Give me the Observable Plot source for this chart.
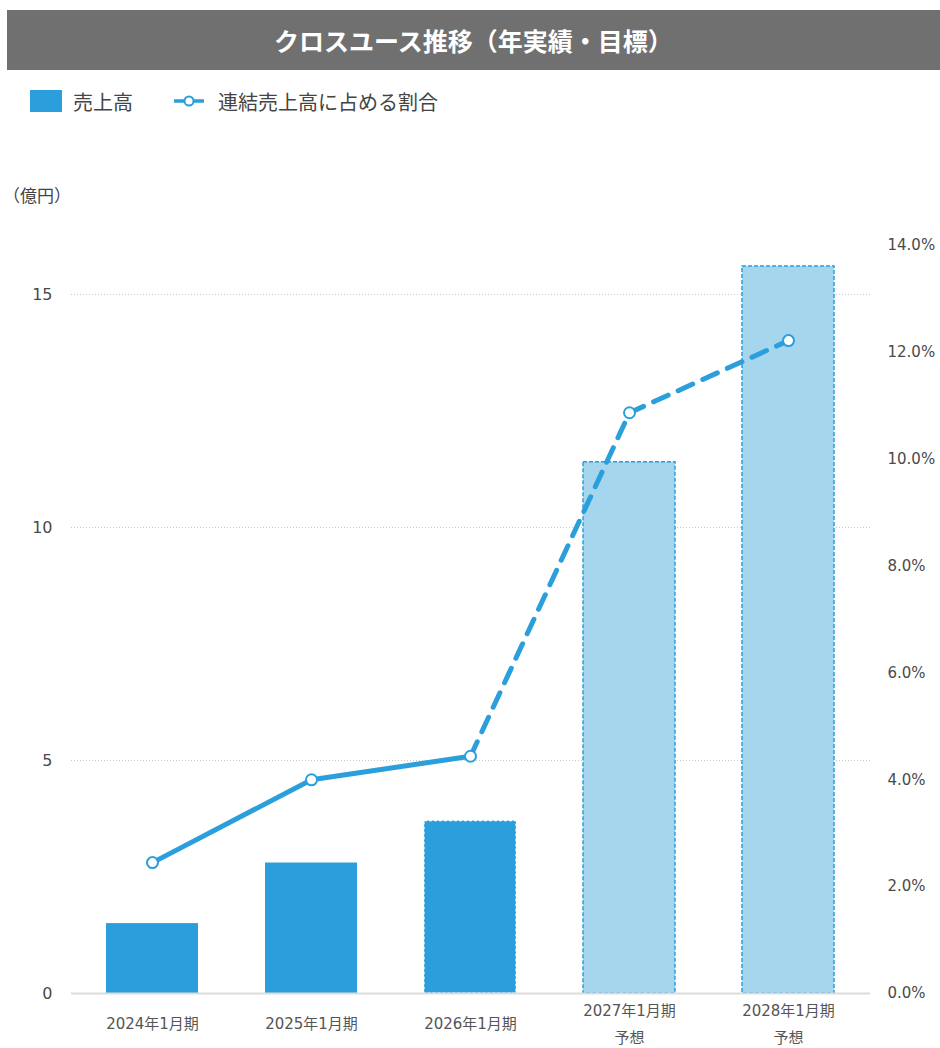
<!DOCTYPE html>
<html><head><meta charset="utf-8">
<script src="https://cdn.jsdelivr.net/npm/d3@7"></script>
<script src="https://cdn.jsdelivr.net/npm/@observablehq/plot@0.6"></script>
<style>
body{margin:0;background:#fff;font-family:"Noto Sans CJK JP",sans-serif;}
#wrap{position:relative;width:940px;height:1048px;overflow:hidden;}
#title{position:absolute;left:7px;top:10px;width:933px;height:60px;background:#707070;color:#fff;font-weight:bold;font-size:25px;display:flex;align-items:center;justify-content:center;}
#legend{position:absolute;left:30px;top:86px;height:30px;display:flex;align-items:center;font-size:20px;color:#444;}
.sw{width:32px;height:22px;background:#2a9fdb;display:inline-block;margin-right:11px;}
#unit{position:absolute;left:3px;top:182px;font-size:17px;color:#444;}
#chart{position:absolute;left:0;top:130px;}
</style></head>
<body><div id="wrap">
<div id="title">クロスユース推移（年実績・目標）</div>
<div id="legend"><span class="sw"></span><span>売上高</span>
<svg width="32" height="14" style="margin-left:40px;margin-right:13px"><line x1="1" y1="7" x2="31" y2="7" stroke="#2a9fdb" stroke-width="3.5"/><circle cx="16" cy="7" r="4.5" fill="#fff" stroke="#2a9fdb" stroke-width="2"/></svg><span>連結売上高に占める割合</span></div>
<div id="unit">（億円）</div>
<div id="chart"></div>
</div>
<script>
const categories = ["2024年1月期","2025年1月期","2026年1月期","2027年1月期","2028年1月期"];
const subLabels = ["","","","予想","予想"];
const sales = [1.5, 2.8, 3.7, 11.4, 15.6];
const ratio = [2.45, 4.0, 4.44, 10.87, 12.22];
const status = ["actual","actual","estimate","forecast","forecast"];
const leftTicks = [0, 5, 10, 15];
const rightTicks = [0, 2, 4, 6, 8, 10, 12, 14];

const blue = "#2a9fdb", light = "#a6d5ee";
const yMax = 16.05, pMax = 14, k = yMax / pMax;
const rows = categories.map((c, i) => ({cat: c, sub: subLabels[i], sales: sales[i], ratio: ratio[i], y2: ratio[i] * k, status: status[i]}));
const solidLine = rows.filter(d => d.status === "actual" || d.status === "estimate");
const dashLine = rows.filter(d => d.status !== "actual");

const chart = Plot.plot({
  width: 940, height: 918,
  marginLeft: 71, marginRight: 70, marginTop: 115, marginBottom: 55,
  style: {fontFamily: "DejaVu Sans, sans-serif", color: "#444", background: "transparent"},
  x: {domain: categories, paddingInner: 0.42, paddingOuter: 0.21, axis: null},
  y: {domain: [0, yMax], axis: null},
  marks: [
    Plot.gridY(leftTicks.filter(t => t > 0), {stroke: "#c8c8c8", strokeOpacity: 1, strokeDasharray: "1,2"}),
    Plot.axisY(leftTicks, {anchor: "left", tickSize: 0, tickPadding: 19, fontSize: 16, fill: "#4a4a4a"}),
    Plot.axisY(rightTicks.map(t => t * k), {anchor: "right", tickSize: 0, tickPadding: 17, fontSize: 15, fill: "#4a4a4a", tickFormat: d => (d / k).toFixed(1) + "%"}),
    Plot.barY(rows.filter(d => d.status === "actual"), {x: "cat", y: "sales", fill: blue}),
    Plot.barY(rows.filter(d => d.status === "estimate"), {x: "cat", y: "sales", fill: blue, stroke: "#ffffff", strokeWidth: 1.2, strokeDasharray: "3,2"}),
    Plot.barY(rows.filter(d => d.status === "forecast"), {x: "cat", y: "sales", fill: light, stroke: blue, strokeWidth: 1.5, strokeDasharray: "4,2"}),
    Plot.ruleY([0], {stroke: "#dcdcdc", strokeWidth: 2}),
    Plot.line(solidLine, {x: "cat", y: "y2", stroke: blue, strokeWidth: 5}),
    Plot.line(dashLine, {x: "cat", y: "y2", stroke: blue, strokeWidth: 5, strokeDasharray: "16,11", strokeLinecap: "round"}),
    Plot.dot(rows, {x: "cat", y: "y2", r: 5.5, fill: "#fff", stroke: blue, strokeWidth: 2}),
    Plot.text(rows, {x: "cat", y: 0, dy: 27, text: d => d.sub ? d.cat + "\n" + d.sub : d.cat, lineAnchor: "middle", lineHeight: 1.8, fontSize: 15, fill: "#555", fontFamily: "DejaVu Sans, Noto Sans CJK JP, sans-serif"})
  ]
});
document.getElementById("chart").appendChild(chart);
</script></body></html>
